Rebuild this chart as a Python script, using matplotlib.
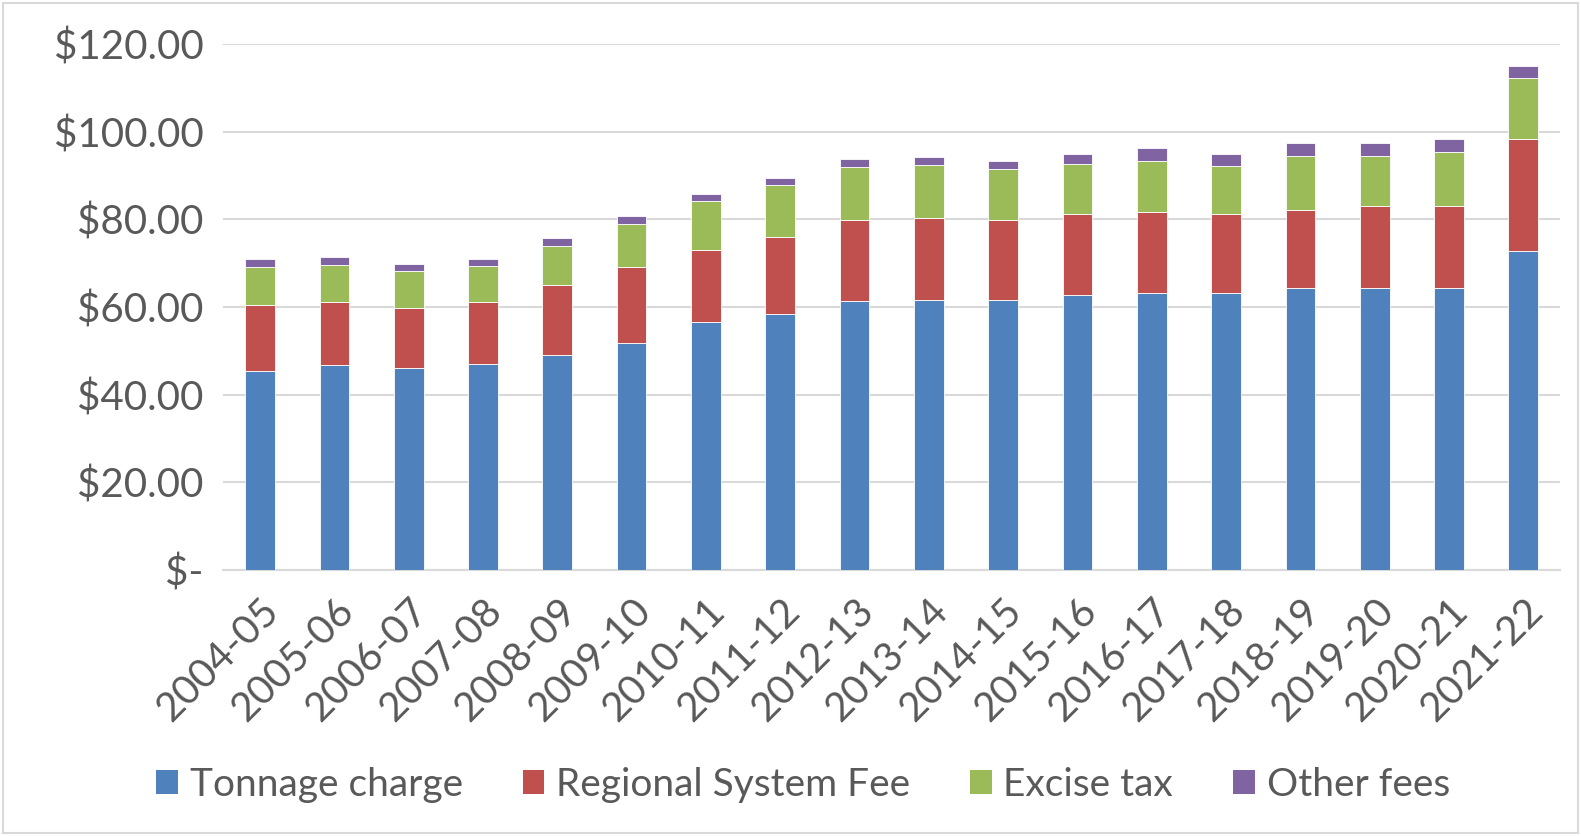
import matplotlib.pyplot as plt
import numpy as np
from matplotlib.patches import Patch, Rectangle
from matplotlib.ticker import FuncFormatter

# data ($ per ton)
years = ['2004-05', '2005-06', '2006-07', '2007-08', '2008-09', '2009-10',
         '2010-11', '2011-12', '2012-13', '2013-14', '2014-15', '2015-16',
         '2016-17', '2017-18', '2018-19', '2019-20', '2020-21', '2021-22']
tonnage = [45.47, 46.78, 46.17, 47.04, 48.96, 51.67, 56.47, 58.30, 61.27,
           61.70, 61.70, 62.84, 63.19, 63.19, 64.41, 64.41, 64.41, 72.87]
regional = [15.10, 14.40, 13.53, 14.05, 15.97, 17.45, 16.67, 17.72, 18.59,
            18.59, 18.07, 18.41, 18.50, 18.06, 17.71, 18.59, 18.59, 25.49]
excise = [8.63, 8.47, 8.46, 8.21, 8.99, 9.95, 10.99, 11.78, 12.21,
          12.22, 11.87, 11.52, 11.69, 10.91, 12.48, 11.60, 12.39, 13.94]
other = [1.67, 1.74, 1.66, 1.74, 1.83, 1.75, 1.75, 1.74, 1.84,
         1.83, 1.74, 2.27, 2.88, 2.79, 2.97, 2.89, 2.97, 2.80]

series = [('Tonnage charge', tonnage, '#4F81BD'),
          ('Regional System Fee', regional, '#C0504D'),
          ('Excise tax', excise, '#9BBB59'),
          ('Other fees', other, '#8064A2')]

plt.rcParams['font.family'] = ['Lato', 'DejaVu Sans']
text_col = '#595959'
fs = 29

fig = plt.figure(figsize=(15.81, 8.36), dpi=100)
ax = fig.add_axes([0.141, 0.3186, 0.846, 0.6283])

x = np.arange(len(years))
bottom = np.zeros(len(years))
for name, vals, col in series:
    ax.bar(x, vals, width=0.4, bottom=bottom, color=col, edgecolor='white',
           linewidth=0.6, zorder=3)
    bottom = bottom + np.array(vals)

ax.set_ylim(0, 120)
ax.set_xlim(-0.5, len(years) - 0.5)
ax.set_yticks(np.arange(0, 121, 20))
ax.yaxis.set_major_formatter(FuncFormatter(lambda v, p: '$-' if v == 0 else '${:.2f}'.format(v)))
ax.grid(axis='y', color='#D9D9D9', linewidth=1.5, zorder=0)
for s in ['top', 'right', 'left']:
    ax.spines[s].set_visible(False)
ax.spines['bottom'].set_color('#D9D9D9')
ax.spines['bottom'].set_linewidth(1.5)
ax.tick_params(axis='both', length=0, labelsize=fs, labelcolor=text_col)
ax.tick_params(axis='y', pad=14)
ax.set_xticks(x)
ax.set_xticklabels(years, rotation=45, ha='right', va='top', rotation_mode='anchor')
ax.tick_params(axis='x', pad=16)

handles = [Patch(facecolor=c, edgecolor='none') for _, _, c in series]
fig.legend(handles, [n for n, _, _ in series], loc='center', bbox_to_anchor=(0.508, 0.0615),
           ncol=4, frameon=False, fontsize=28, labelcolor=text_col,
           handlelength=0.55, handleheight=0.55, handletextpad=0.3, columnspacing=1.55)

# light frame round the whole chart
fig.patches.append(Rectangle((0.002, 0.003), 0.996, 0.994, transform=fig.transFigure,
                             fill=False, edgecolor='#D9D9D9', linewidth=1.5))

fig.savefig('out.png', dpi=100)
